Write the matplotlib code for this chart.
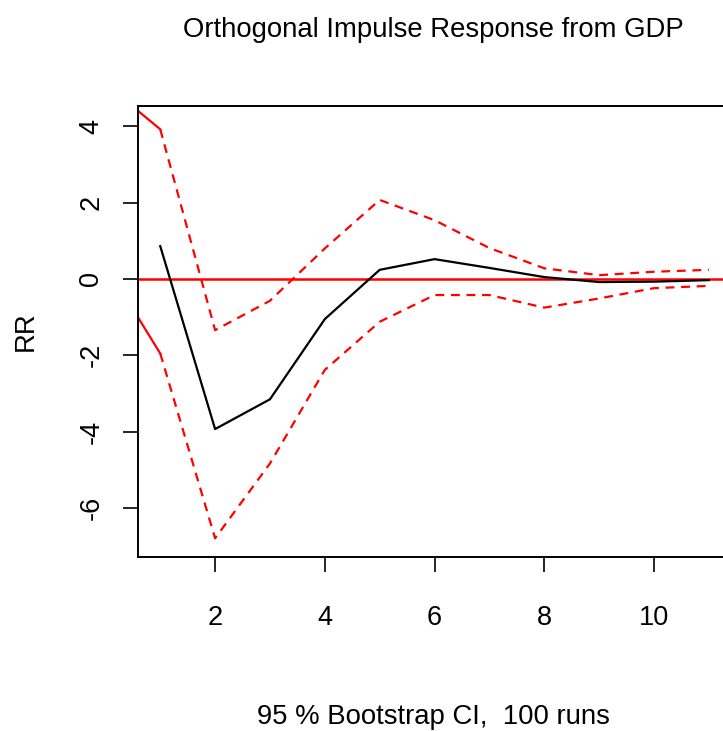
import numpy as np
import matplotlib
matplotlib.use("Agg")
import matplotlib.pyplot as plt

plt.rcParams['font.family'] = ['Liberation Sans', 'DejaVu Sans']
plt.rcParams['axes.unicode_minus'] = False

# impulse response of RR to a GDP shock, horizons 1..11
steps = [1, 2, 3, 4, 5, 6, 7, 8, 9, 10, 11]
irf = [0.86, -3.93, -3.15, -1.05, 0.24, 0.52, 0.29, 0.05, -0.08, -0.07, -0.03]
upper = [3.92, -1.34, -0.57, 0.80, 2.07, 1.54, 0.81, 0.28, 0.10, 0.19, 0.24]
lower = [-1.95, -6.79, -4.83, -2.38, -1.12, -0.42, -0.42, -0.75, -0.51, -0.24, -0.18]
# lead-in piece of the bands before step 1 (drawn solid)
lead_steps = [0, 1]
lead_upper = [5.11, 3.92]
lead_lower = [0.38, -1.95]

xticks = [2, 4, 6, 8, 10]
yticks = [-6, -4, -2, 0, 2, 4]

fig = plt.figure(figsize=(7.23, 7.31), dpi=100)
ax = fig.add_axes([138.3 / 723, 1 - 557 / 731, (730.8 - 138.3) / 723, (557 - 106) / 731])

ax.axhline(0, color='red', lw=1.8, zorder=2)
ax.plot(steps, irf, color='black', lw=1.6, zorder=3)
ax.plot(steps, upper, color='red', lw=1.6, linestyle=(0, (4, 3)))
ax.plot(steps, lower, color='red', lw=1.6, linestyle=(0, (4, 3)))
ax.plot(lead_steps, lead_upper, color='red', lw=1.6)
ax.plot(lead_steps, lead_lower, color='red', lw=1.6)

ax.set_xlim(0.6, 11.4)
ax.set_ylim(-7.28, 4.53)
ax.set_xticks(xticks)
ax.set_yticks(yticks)
ax.tick_params(direction='out', length=10.5, width=1.2, labelsize=19.5)
ax.tick_params(axis='x', pad=24)
ax.tick_params(axis='y', pad=14)
for lab in ax.get_yticklabels():
    lab.set_rotation(90)
    lab.set_va('center')
for sp in ax.spines.values():
    sp.set_linewidth(1.4)

fig.text(433 / 723, 1 - 30 / 731, "Orthogonal Impulse Response from GDP",
         ha='center', va='center', fontsize=19.8)
fig.text(433 / 723, 1 - 717 / 731, "95 % Bootstrap CI,  100 runs",
         ha='center', va='center', fontsize=19.8)
fig.text(26 / 723, 1 - 331 / 731, "RR", ha='center', va='center',
         rotation=90, fontsize=19.8)

fig.savefig("out.png", dpi=100)
